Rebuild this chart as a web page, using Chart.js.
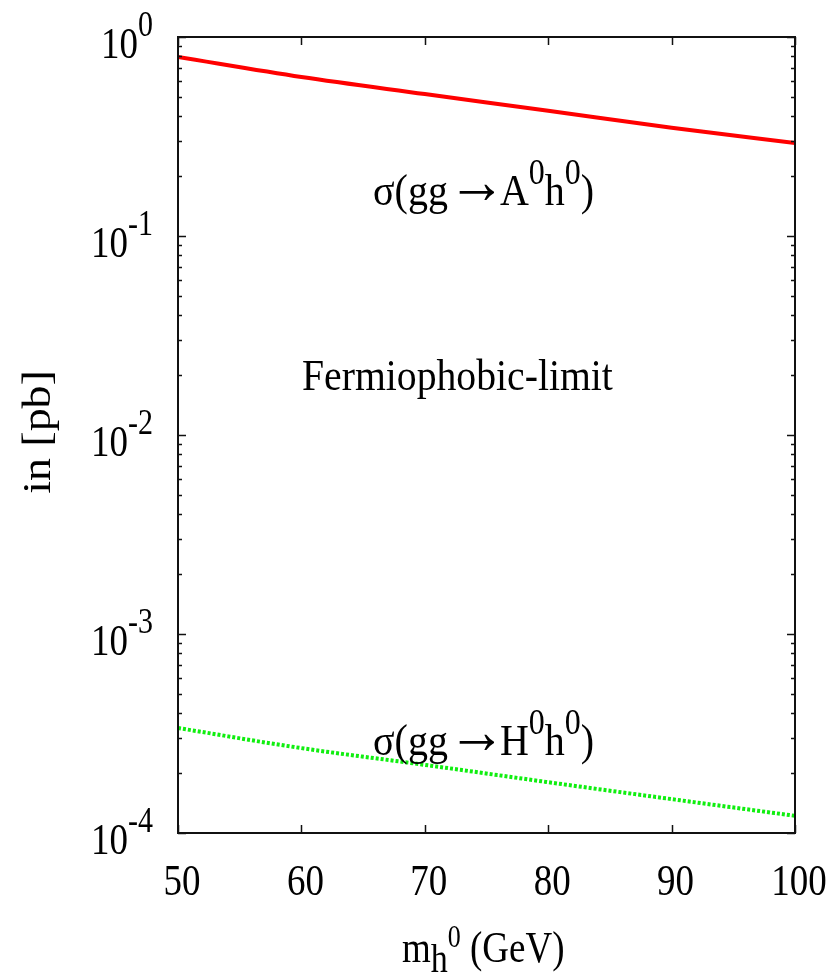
<!DOCTYPE html>
<html>
<head>
<meta charset="utf-8">
<script src="https://cdn.jsdelivr.net/npm/chart.js@4/dist/chart.umd.min.js"></script>
<style>
html,body{margin:0;padding:0;background:#fff;}
#wrap{width:837px;height:973px;}
</style>
</head>
<body>
<div id="wrap"><canvas id="c" width="837" height="973"></canvas></div>
<script>
// ---- data ----
const massValues = [50, 60, 70, 80, 90, 100];
const sigmaAh = [0.793, 0.629, 0.517, 0.426, 0.350, 0.293];
const sigmaHh = [3.37e-4, 2.67e-4, 2.20e-4, 1.80e-4, 1.48e-4, 1.22e-4];
const xTickValues = [50, 60, 70, 80, 90, 100];
const yTickExponents = [0, -1, -2, -3, -4];
const seriesLabels = ['σ(gg →A⁰h⁰)', 'σ(gg →H⁰h⁰)'];

const FONT = '"Liberation Serif", "Times New Roman", serif';

function drawParts(ctx, parts, x, y, align, sy) {
  let total = 0;
  const widths = parts.map(p => {
    ctx.font = p.size + 'px ' + (p.f || FONT);
    const w = ctx.measureText(p.t).width + (p.k || 0);
    total += w;
    return w;
  });
  let sx = align === 'right' ? x - total : align === 'center' ? x - total / 2 : x;
  ctx.save();
  ctx.translate(sx, y);
  ctx.scale(1, sy);
  ctx.textAlign = 'left';
  ctx.textBaseline = 'alphabetic';
  ctx.fillStyle = '#000';
  let cx = 0;
  parts.forEach((p, i) => {
    ctx.font = p.size + 'px ' + (p.f || FONT);
    ctx.fillText(p.t, cx + (p.ox || 0), p.dy || 0);
    cx += widths[i];
  });
  ctx.restore();
}

const framePlugin = {
  id: 'frame',
  afterDatasetsDraw(chart) {
    const ctx = chart.ctx;
    const a = chart.chartArea;
    const xs = chart.scales.x, ys = chart.scales.y;
    ctx.save();
    ctx.strokeStyle = '#111';
    ctx.lineWidth = 1.5;
    // y ticks (major + minor), both sides, inward
    for (let i = 0; i < yTickExponents.length; i++) {
      const e = yTickExponents[i];
      for (let m = 1; m <= 9; m++) {
        const v = m * Math.pow(10, e);
        if (v > 1.0000001 || v < 1e-4 * 0.999999) continue;
        const py = Math.round(ys.getPixelForValue(v)) + 0.5;
        const len = m === 1 ? 8 : 4;
        ctx.beginPath();
        ctx.moveTo(a.left, py); ctx.lineTo(a.left + len, py);
        ctx.moveTo(a.right, py); ctx.lineTo(a.right - len, py);
        ctx.stroke();
      }
    }
    // x ticks, bottom and top, inward
    xTickValues.forEach(v => {
      const px = Math.round(xs.getPixelForValue(v)) + 0.5;
      ctx.beginPath();
      ctx.moveTo(px, a.bottom); ctx.lineTo(px, a.bottom - 8);
      ctx.moveTo(px, a.top); ctx.lineTo(px, a.top + 8);
      ctx.stroke();
    });
    // frame
    ctx.lineWidth = 2;
    ctx.strokeStyle = '#111';
    ctx.strokeRect(a.left, a.top, a.right - a.left, a.bottom - a.top);
    ctx.restore();

    // y tick labels
    yTickExponents.forEach(e => {
      const py = ys.getPixelForValue(Math.pow(10, e));
      drawParts(ctx, [
        {t: '10', size: 37},
        {t: String(e), size: 30, dy: -18.5}
      ], 153, py + 21, 'right', 1.2);
    });
    // x tick labels
    xTickValues.forEach(v => {
      const px = xs.getPixelForValue(v);
      drawParts(ctx, [{t: String(v), size: 37}], px + 4, 895, 'center', 1.2);
    });
    // x title
    drawParts(ctx, [
      {t: 'm', size: 37},
      {t: 'h', size: 34, dy: 8},
      {t: '0', size: 26, dy: -12.5},
      {t: ' (GeV)', size: 37}
    ], 402, 962, 'left', 1.2);
    // y title (rotated)
    ctx.save();
    ctx.translate(50, 432);
    ctx.rotate(-Math.PI / 2);
    ctx.scale(1.12, 1);
    ctx.font = '41px ' + FONT;
    ctx.fillStyle = '#000';
    ctx.textAlign = 'center';
    ctx.textBaseline = 'alphabetic';
    ctx.fillText('in [pb]', 0, 0);
    ctx.restore();
    // annotations
    function sigmaLabel(letter, y) {
      drawParts(ctx, [
        {t: 'σ(gg', size: 40},
        {t: '→', size: 58, dy: -2, k: -6},
        {t: letter, size: 40},
        {t: '0', size: 32, dy: -19},
        {t: 'h', size: 40},
        {t: '0', size: 32, dy: -19},
        {t: ')', size: 40}
      ], 373, y, 'left', 1.12);
    }
    sigmaLabel('A', 205);
    drawParts(ctx, [{t: 'Fermiophobic-limit', size: 39.7}], 302, 390, 'left', 1.13);
    sigmaLabel('H', 755);
  }
};

new Chart(document.getElementById('c'), {
  type: 'line',
  data: {
    datasets: [
      {
        label: seriesLabels[0],
        data: massValues.map((x, i) => ({x: x, y: sigmaAh[i]})),
        borderColor: '#ff0000',
        borderWidth: 4,
        pointRadius: 0,
        cubicInterpolationMode: 'monotone',
        fill: false
      },
      {
        label: seriesLabels[1],
        data: massValues.map((x, i) => ({x: x, y: sigmaHh[i]})),
        borderColor: '#10ee10',
        borderWidth: 4,
        borderDash: [3, 2],
        pointRadius: 0,
        cubicInterpolationMode: 'monotone',
        fill: false
      }
    ]
  },
  options: {
    responsive: false,
    animation: false,
    devicePixelRatio: 1,
    layout: {padding: {left: 178, right: 42, top: 37, bottom: 140}},
    plugins: {legend: {display: false}, tooltip: {enabled: false}},
    scales: {
      x: {type: 'linear', min: 50, max: 100, display: false},
      y: {type: 'logarithmic', min: 1e-4, max: 1, display: false}
    }
  },
  plugins: [framePlugin]
});
</script>
</body>
</html>
